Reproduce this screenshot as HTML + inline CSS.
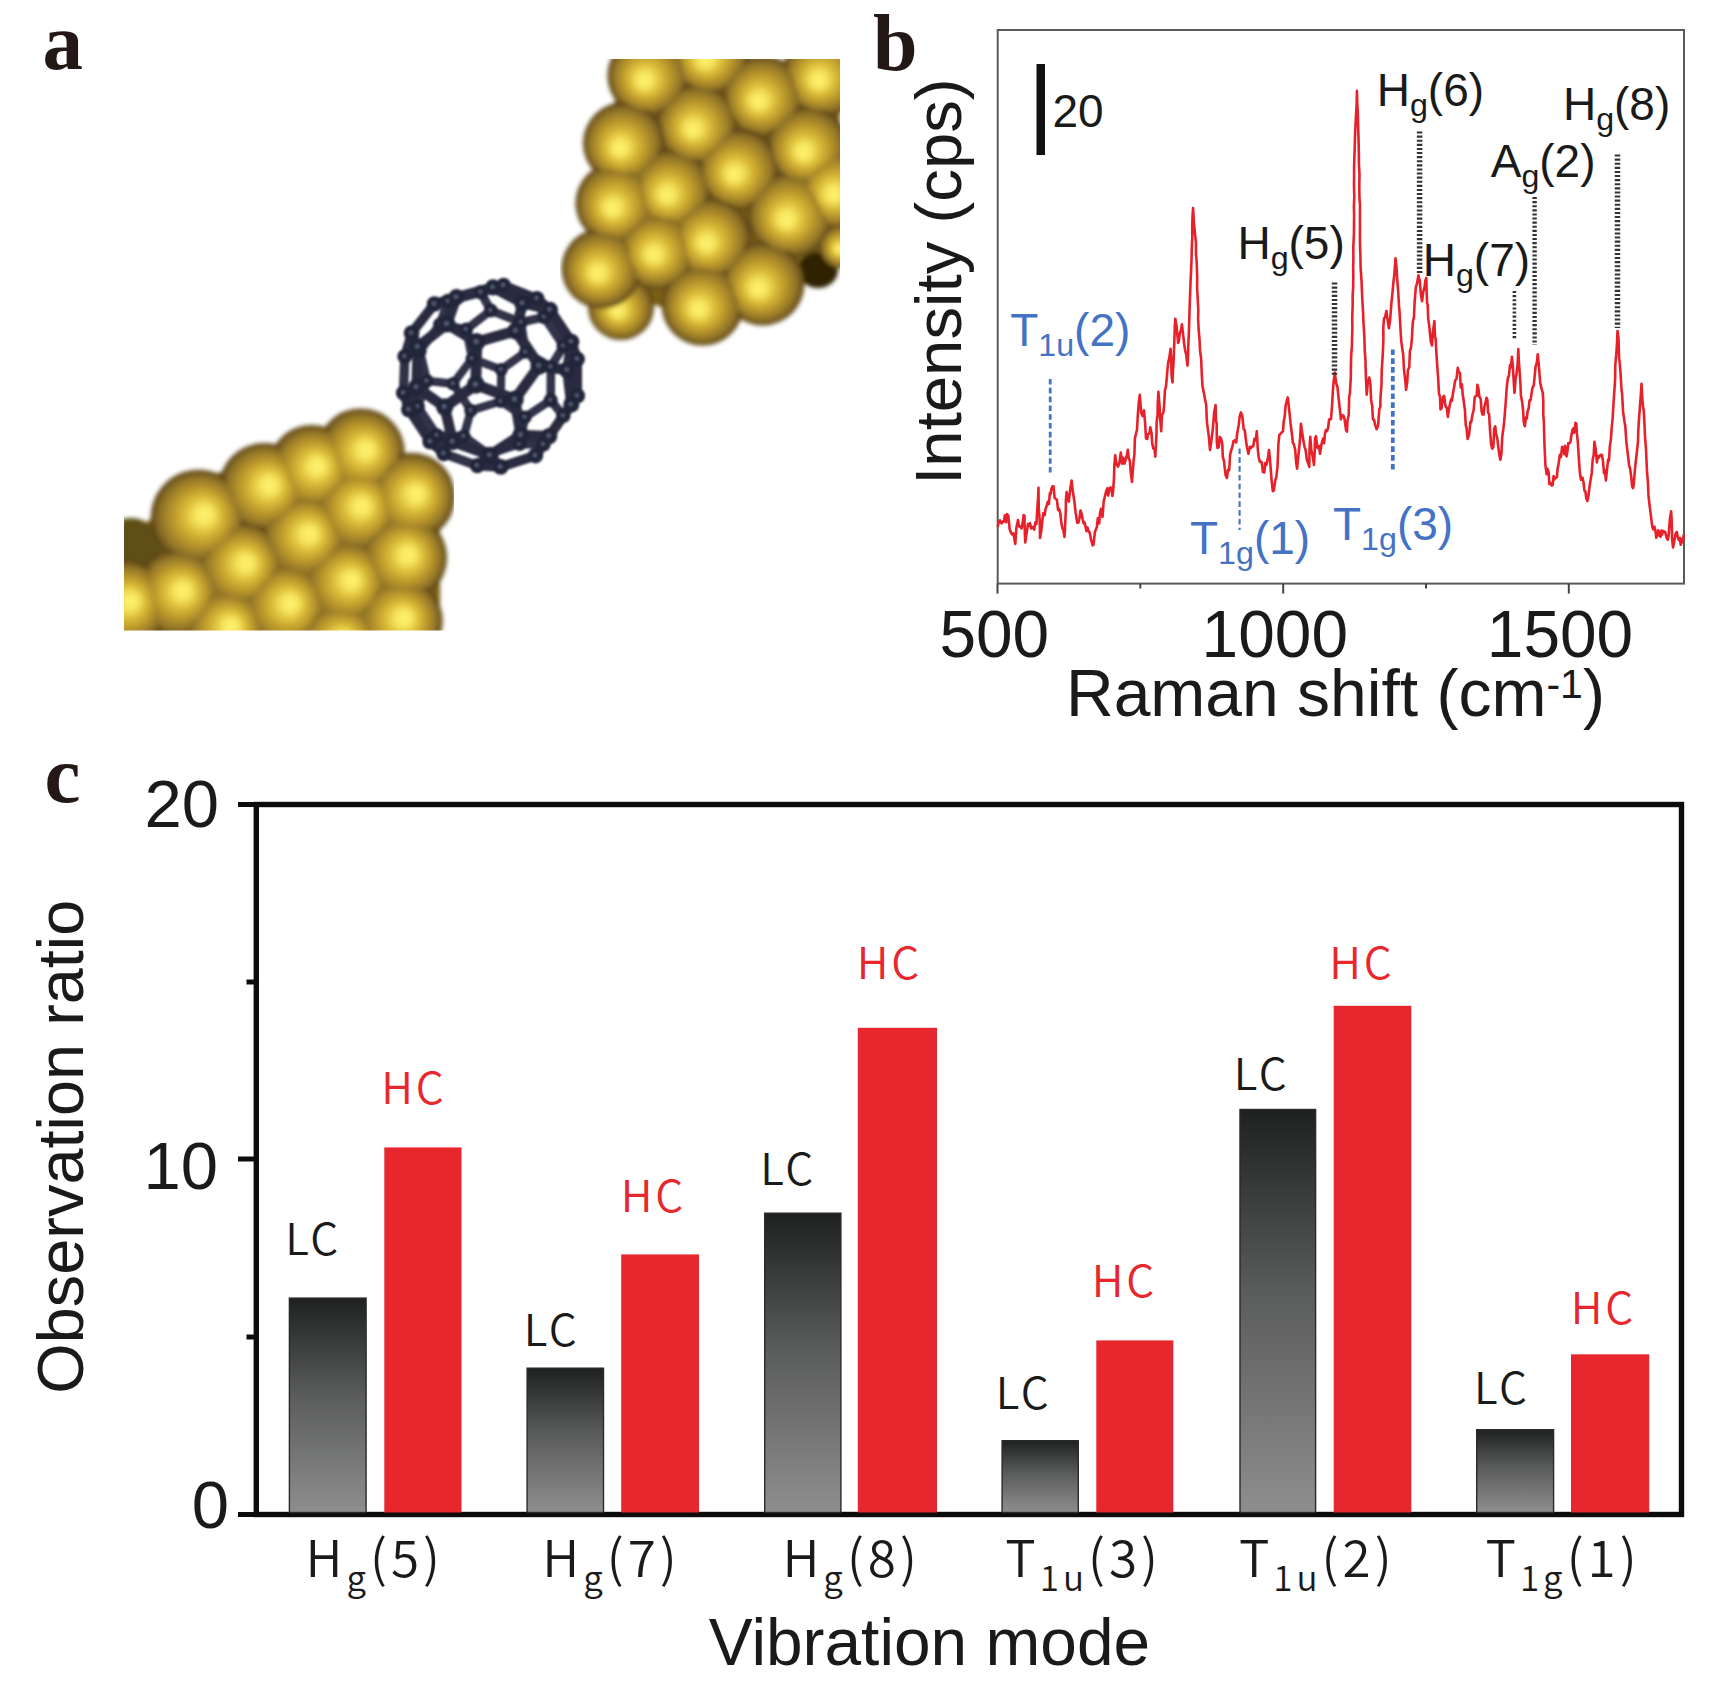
<!DOCTYPE html>
<html lang="en"><head><meta charset="utf-8"><title>Figure</title>
<style>html,body{margin:0;padding:0;background:#fff}svg{display:block}text{font-family:"Liberation Sans",Arial,sans-serif;fill:#1a1a1a}.ser{font-family:"Liberation Serif","Times New Roman",serif;font-weight:bold;fill:#231815}.hum{font-family:"Noto Sans CJK JP","Liberation Sans",sans-serif;font-weight:350}</style></head><body>
<svg width="1710" height="1707" viewBox="0 0 1710 1707">
<defs>
<radialGradient id="gold_100" cx="50%" cy="50%" r="50.00%" fx="44.00%" fy="57.00%"><stop offset="0" stop-color="#fdf273"/><stop offset="0.18" stop-color="#f8e65e"/><stop offset="0.4" stop-color="#d8b836"/><stop offset="0.62" stop-color="#b6932a"/><stop offset="0.82" stop-color="#917428"/><stop offset="0.94" stop-color="#70561e"/><stop offset="1" stop-color="#4e3612"/></radialGradient>
<radialGradient id="gold_86" cx="50%" cy="50%" r="58.14%" fx="43.02%" fy="58.14%"><stop offset="0" stop-color="#fdf273"/><stop offset="0.18" stop-color="#f8e65e"/><stop offset="0.4" stop-color="#d8b836"/><stop offset="0.62" stop-color="#b6932a"/><stop offset="0.82" stop-color="#917428"/><stop offset="0.94" stop-color="#70561e"/><stop offset="1" stop-color="#4e3612"/></radialGradient>
<radialGradient id="gold_72" cx="50%" cy="50%" r="69.44%" fx="41.67%" fy="59.72%"><stop offset="0" stop-color="#fdf273"/><stop offset="0.18" stop-color="#f8e65e"/><stop offset="0.4" stop-color="#d8b836"/><stop offset="0.62" stop-color="#b6932a"/><stop offset="0.82" stop-color="#917428"/><stop offset="0.94" stop-color="#70561e"/><stop offset="1" stop-color="#4e3612"/></radialGradient>
<radialGradient id="gold_57" cx="50%" cy="50%" r="86.21%" fx="39.66%" fy="62.07%"><stop offset="0" stop-color="#fdf273"/><stop offset="0.18" stop-color="#f8e65e"/><stop offset="0.4" stop-color="#d8b836"/><stop offset="0.62" stop-color="#b6932a"/><stop offset="0.82" stop-color="#917428"/><stop offset="0.94" stop-color="#70561e"/><stop offset="1" stop-color="#4e3612"/></radialGradient>
<radialGradient id="gold_44" cx="50%" cy="50%" r="113.64%" fx="36.36%" fy="65.91%"><stop offset="0" stop-color="#fdf273"/><stop offset="0.18" stop-color="#f8e65e"/><stop offset="0.4" stop-color="#d8b836"/><stop offset="0.62" stop-color="#b6932a"/><stop offset="0.82" stop-color="#917428"/><stop offset="0.94" stop-color="#70561e"/><stop offset="1" stop-color="#4e3612"/></radialGradient>
<radialGradient id="gold2_100" cx="50%" cy="50%" r="50.00%" fx="57.00%" fy="46.50%"><stop offset="0" stop-color="#fdf273"/><stop offset="0.18" stop-color="#f8e65e"/><stop offset="0.4" stop-color="#d8b836"/><stop offset="0.62" stop-color="#b6932a"/><stop offset="0.82" stop-color="#917428"/><stop offset="0.94" stop-color="#70561e"/><stop offset="1" stop-color="#4e3612"/></radialGradient>
<radialGradient id="gold2_86" cx="50%" cy="50%" r="58.14%" fx="58.14%" fy="45.93%"><stop offset="0" stop-color="#fdf273"/><stop offset="0.18" stop-color="#f8e65e"/><stop offset="0.4" stop-color="#d8b836"/><stop offset="0.62" stop-color="#b6932a"/><stop offset="0.82" stop-color="#917428"/><stop offset="0.94" stop-color="#70561e"/><stop offset="1" stop-color="#4e3612"/></radialGradient>
<radialGradient id="gold2_72" cx="50%" cy="50%" r="69.44%" fx="59.72%" fy="45.14%"><stop offset="0" stop-color="#fdf273"/><stop offset="0.18" stop-color="#f8e65e"/><stop offset="0.4" stop-color="#d8b836"/><stop offset="0.62" stop-color="#b6932a"/><stop offset="0.82" stop-color="#917428"/><stop offset="0.94" stop-color="#70561e"/><stop offset="1" stop-color="#4e3612"/></radialGradient>
<radialGradient id="gold2_57" cx="50%" cy="50%" r="86.21%" fx="62.07%" fy="43.97%"><stop offset="0" stop-color="#fdf273"/><stop offset="0.18" stop-color="#f8e65e"/><stop offset="0.4" stop-color="#d8b836"/><stop offset="0.62" stop-color="#b6932a"/><stop offset="0.82" stop-color="#917428"/><stop offset="0.94" stop-color="#70561e"/><stop offset="1" stop-color="#4e3612"/></radialGradient>
<radialGradient id="gold2_44" cx="50%" cy="50%" r="113.64%" fx="65.91%" fy="42.05%"><stop offset="0" stop-color="#fdf273"/><stop offset="0.18" stop-color="#f8e65e"/><stop offset="0.4" stop-color="#d8b836"/><stop offset="0.62" stop-color="#b6932a"/><stop offset="0.82" stop-color="#917428"/><stop offset="0.94" stop-color="#70561e"/><stop offset="1" stop-color="#4e3612"/></radialGradient>
<linearGradient id="lc" x1="0" y1="0" x2="0" y2="1"><stop offset="0" stop-color="#1f2121"/><stop offset="0.45" stop-color="#5a5b5b"/><stop offset="1" stop-color="#8e8e8e"/></linearGradient>
<filter id="blur1" x="-5%" y="-5%" width="110%" height="110%"><feGaussianBlur stdDeviation="2.2"/></filter>
<filter id="blur2" x="-5%" y="-5%" width="110%" height="110%"><feGaussianBlur stdDeviation="1.1"/></filter>
<clipPath id="clipTR"><rect x="560" y="59" width="280" height="300"/></clipPath>
<clipPath id="clipBL"><rect x="124" y="380" width="330" height="250.5"/></clipPath>
</defs>
<rect width="1710" height="1707" fill="#fff"/>
<g id="panel-a">
<g clip-path="url(#clipTR)"><g filter="url(#blur1)">
<path d="M640,70 L840,60 L840,262 L800,285 L700,320 L610,290 L590,200 L600,120 Z" fill="#7a6018"/>
<ellipse cx="818" cy="270" rx="20" ry="18" fill="#2e2206"/>
<circle cx="621" cy="307" r="33" fill="url(#gold_100)"/>
<circle cx="709.5" cy="54.5" r="41.0" fill="url(#gold_100)"/>
<circle cx="822.5" cy="75.5" r="41.0" fill="url(#gold_100)"/>
<circle cx="648.4" cy="75.7" r="41.0" fill="url(#gold_100)"/>
<circle cx="762.7" cy="96.4" r="41.0" fill="url(#gold_100)"/>
<circle cx="697.1" cy="124.5" r="41.0" fill="url(#gold_100)"/>
<circle cx="807.5" cy="147.0" r="41.0" fill="url(#gold_100)"/>
<circle cx="624.0" cy="143.2" r="41.0" fill="url(#gold_100)"/>
<circle cx="738.3" cy="169.5" r="41.0" fill="url(#gold_100)"/>
<circle cx="837.5" cy="189.5" r="41.0" fill="url(#gold_100)"/>
<circle cx="670.9" cy="190.1" r="41.0" fill="url(#gold_100)"/>
<circle cx="790.5" cy="214.5" r="43.0" fill="url(#gold_100)"/>
<circle cx="616.5" cy="203.2" r="41.0" fill="url(#gold_100)"/>
<circle cx="841.5" cy="246.5" r="22.0" fill="url(#gold_100)"/>
<circle cx="710.2" cy="238.5" r="41.0" fill="url(#gold_100)"/>
<circle cx="657.5" cy="250.1" r="40.0" fill="url(#gold_100)"/>
<circle cx="762.5" cy="283.5" r="42.0" fill="url(#gold_100)"/>
<circle cx="601.5" cy="268.5" r="40.0" fill="url(#gold_100)"/>
<circle cx="702.5" cy="304.5" r="41.0" fill="url(#gold_100)"/>
<circle cx="709.5" cy="54.5" r="35.3" fill="url(#gold_86)"/>
<circle cx="822.5" cy="75.5" r="35.3" fill="url(#gold_86)"/>
<circle cx="648.4" cy="75.7" r="35.3" fill="url(#gold_86)"/>
<circle cx="762.7" cy="96.4" r="35.3" fill="url(#gold_86)"/>
<circle cx="697.1" cy="124.5" r="35.3" fill="url(#gold_86)"/>
<circle cx="807.5" cy="147.0" r="35.3" fill="url(#gold_86)"/>
<circle cx="624.0" cy="143.2" r="35.3" fill="url(#gold_86)"/>
<circle cx="738.3" cy="169.5" r="35.3" fill="url(#gold_86)"/>
<circle cx="837.5" cy="189.5" r="35.3" fill="url(#gold_86)"/>
<circle cx="670.9" cy="190.1" r="35.3" fill="url(#gold_86)"/>
<circle cx="790.5" cy="214.5" r="37.0" fill="url(#gold_86)"/>
<circle cx="616.5" cy="203.2" r="35.3" fill="url(#gold_86)"/>
<circle cx="841.5" cy="246.5" r="18.9" fill="url(#gold_86)"/>
<circle cx="710.2" cy="238.5" r="35.3" fill="url(#gold_86)"/>
<circle cx="657.5" cy="250.1" r="34.4" fill="url(#gold_86)"/>
<circle cx="762.5" cy="283.5" r="36.1" fill="url(#gold_86)"/>
<circle cx="601.5" cy="268.5" r="34.4" fill="url(#gold_86)"/>
<circle cx="702.5" cy="304.5" r="35.3" fill="url(#gold_86)"/>
<circle cx="709.5" cy="54.5" r="29.5" fill="url(#gold_72)"/>
<circle cx="822.5" cy="75.5" r="29.5" fill="url(#gold_72)"/>
<circle cx="648.4" cy="75.7" r="29.5" fill="url(#gold_72)"/>
<circle cx="762.7" cy="96.4" r="29.5" fill="url(#gold_72)"/>
<circle cx="697.1" cy="124.5" r="29.5" fill="url(#gold_72)"/>
<circle cx="807.5" cy="147.0" r="29.5" fill="url(#gold_72)"/>
<circle cx="624.0" cy="143.2" r="29.5" fill="url(#gold_72)"/>
<circle cx="738.3" cy="169.5" r="29.5" fill="url(#gold_72)"/>
<circle cx="837.5" cy="189.5" r="29.5" fill="url(#gold_72)"/>
<circle cx="670.9" cy="190.1" r="29.5" fill="url(#gold_72)"/>
<circle cx="790.5" cy="214.5" r="31.0" fill="url(#gold_72)"/>
<circle cx="616.5" cy="203.2" r="29.5" fill="url(#gold_72)"/>
<circle cx="841.5" cy="246.5" r="15.8" fill="url(#gold_72)"/>
<circle cx="710.2" cy="238.5" r="29.5" fill="url(#gold_72)"/>
<circle cx="657.5" cy="250.1" r="28.8" fill="url(#gold_72)"/>
<circle cx="762.5" cy="283.5" r="30.2" fill="url(#gold_72)"/>
<circle cx="601.5" cy="268.5" r="28.8" fill="url(#gold_72)"/>
<circle cx="702.5" cy="304.5" r="29.5" fill="url(#gold_72)"/>
<circle cx="709.5" cy="54.5" r="23.8" fill="url(#gold_57)"/>
<circle cx="822.5" cy="75.5" r="23.8" fill="url(#gold_57)"/>
<circle cx="648.4" cy="75.7" r="23.8" fill="url(#gold_57)"/>
<circle cx="762.7" cy="96.4" r="23.8" fill="url(#gold_57)"/>
<circle cx="697.1" cy="124.5" r="23.8" fill="url(#gold_57)"/>
<circle cx="807.5" cy="147.0" r="23.8" fill="url(#gold_57)"/>
<circle cx="624.0" cy="143.2" r="23.8" fill="url(#gold_57)"/>
<circle cx="738.3" cy="169.5" r="23.8" fill="url(#gold_57)"/>
<circle cx="837.5" cy="189.5" r="23.8" fill="url(#gold_57)"/>
<circle cx="670.9" cy="190.1" r="23.8" fill="url(#gold_57)"/>
<circle cx="790.5" cy="214.5" r="24.9" fill="url(#gold_57)"/>
<circle cx="616.5" cy="203.2" r="23.8" fill="url(#gold_57)"/>
<circle cx="841.5" cy="246.5" r="12.8" fill="url(#gold_57)"/>
<circle cx="710.2" cy="238.5" r="23.8" fill="url(#gold_57)"/>
<circle cx="657.5" cy="250.1" r="23.2" fill="url(#gold_57)"/>
<circle cx="762.5" cy="283.5" r="24.4" fill="url(#gold_57)"/>
<circle cx="601.5" cy="268.5" r="23.2" fill="url(#gold_57)"/>
<circle cx="702.5" cy="304.5" r="23.8" fill="url(#gold_57)"/>
<circle cx="709.5" cy="54.5" r="18.0" fill="url(#gold_44)"/>
<circle cx="822.5" cy="75.5" r="18.0" fill="url(#gold_44)"/>
<circle cx="648.4" cy="75.7" r="18.0" fill="url(#gold_44)"/>
<circle cx="762.7" cy="96.4" r="18.0" fill="url(#gold_44)"/>
<circle cx="697.1" cy="124.5" r="18.0" fill="url(#gold_44)"/>
<circle cx="807.5" cy="147.0" r="18.0" fill="url(#gold_44)"/>
<circle cx="624.0" cy="143.2" r="18.0" fill="url(#gold_44)"/>
<circle cx="738.3" cy="169.5" r="18.0" fill="url(#gold_44)"/>
<circle cx="837.5" cy="189.5" r="18.0" fill="url(#gold_44)"/>
<circle cx="670.9" cy="190.1" r="18.0" fill="url(#gold_44)"/>
<circle cx="790.5" cy="214.5" r="18.9" fill="url(#gold_44)"/>
<circle cx="616.5" cy="203.2" r="18.0" fill="url(#gold_44)"/>
<circle cx="841.5" cy="246.5" r="9.7" fill="url(#gold_44)"/>
<circle cx="710.2" cy="238.5" r="18.0" fill="url(#gold_44)"/>
<circle cx="657.5" cy="250.1" r="17.6" fill="url(#gold_44)"/>
<circle cx="762.5" cy="283.5" r="18.5" fill="url(#gold_44)"/>
<circle cx="601.5" cy="268.5" r="17.6" fill="url(#gold_44)"/>
<circle cx="702.5" cy="304.5" r="18.0" fill="url(#gold_44)"/>
</g></g>
<g clip-path="url(#clipBL)"><g filter="url(#blur1)">
<path d="M124,540 L200,480 L330,430 L400,450 L440,520 L440,640 L124,640 Z" fill="#7a6018"/>
<circle cx="131" cy="548" r="30" fill="#5f5012"/>
<circle cx="360.8" cy="452.5" r="44.0" fill="url(#gold2_100)"/>
<circle cx="312.0" cy="469.0" r="44.0" fill="url(#gold2_100)"/>
<circle cx="264.0" cy="488.0" r="45.0" fill="url(#gold2_100)"/>
<circle cx="411.0" cy="496.7" r="44.0" fill="url(#gold2_100)"/>
<circle cx="356.6" cy="509.0" r="44.0" fill="url(#gold2_100)"/>
<circle cx="198.7" cy="517.7" r="48.0" fill="url(#gold2_100)"/>
<circle cx="304.0" cy="536.7" r="44.0" fill="url(#gold2_100)"/>
<circle cx="403.0" cy="557.7" r="44.0" fill="url(#gold2_100)"/>
<circle cx="240.8" cy="566.0" r="44.0" fill="url(#gold2_100)"/>
<circle cx="346.0" cy="583.0" r="44.0" fill="url(#gold2_100)"/>
<circle cx="177.7" cy="593.5" r="44.0" fill="url(#gold2_100)"/>
<circle cx="125.0" cy="604.0" r="44.0" fill="url(#gold2_100)"/>
<circle cx="285.0" cy="606.0" r="44.0" fill="url(#gold2_100)"/>
<circle cx="398.7" cy="621.0" r="44.0" fill="url(#gold2_100)"/>
<circle cx="226.0" cy="629.0" r="42.0" fill="url(#gold2_100)"/>
<circle cx="339.0" cy="643.0" r="42.0" fill="url(#gold2_100)"/>
<circle cx="360.8" cy="452.5" r="37.8" fill="url(#gold2_86)"/>
<circle cx="312.0" cy="469.0" r="37.8" fill="url(#gold2_86)"/>
<circle cx="264.0" cy="488.0" r="38.7" fill="url(#gold2_86)"/>
<circle cx="411.0" cy="496.7" r="37.8" fill="url(#gold2_86)"/>
<circle cx="356.6" cy="509.0" r="37.8" fill="url(#gold2_86)"/>
<circle cx="198.7" cy="517.7" r="41.3" fill="url(#gold2_86)"/>
<circle cx="304.0" cy="536.7" r="37.8" fill="url(#gold2_86)"/>
<circle cx="403.0" cy="557.7" r="37.8" fill="url(#gold2_86)"/>
<circle cx="240.8" cy="566.0" r="37.8" fill="url(#gold2_86)"/>
<circle cx="346.0" cy="583.0" r="37.8" fill="url(#gold2_86)"/>
<circle cx="177.7" cy="593.5" r="37.8" fill="url(#gold2_86)"/>
<circle cx="125.0" cy="604.0" r="37.8" fill="url(#gold2_86)"/>
<circle cx="285.0" cy="606.0" r="37.8" fill="url(#gold2_86)"/>
<circle cx="398.7" cy="621.0" r="37.8" fill="url(#gold2_86)"/>
<circle cx="226.0" cy="629.0" r="36.1" fill="url(#gold2_86)"/>
<circle cx="339.0" cy="643.0" r="36.1" fill="url(#gold2_86)"/>
<circle cx="360.8" cy="452.5" r="31.7" fill="url(#gold2_72)"/>
<circle cx="312.0" cy="469.0" r="31.7" fill="url(#gold2_72)"/>
<circle cx="264.0" cy="488.0" r="32.4" fill="url(#gold2_72)"/>
<circle cx="411.0" cy="496.7" r="31.7" fill="url(#gold2_72)"/>
<circle cx="356.6" cy="509.0" r="31.7" fill="url(#gold2_72)"/>
<circle cx="198.7" cy="517.7" r="34.6" fill="url(#gold2_72)"/>
<circle cx="304.0" cy="536.7" r="31.7" fill="url(#gold2_72)"/>
<circle cx="403.0" cy="557.7" r="31.7" fill="url(#gold2_72)"/>
<circle cx="240.8" cy="566.0" r="31.7" fill="url(#gold2_72)"/>
<circle cx="346.0" cy="583.0" r="31.7" fill="url(#gold2_72)"/>
<circle cx="177.7" cy="593.5" r="31.7" fill="url(#gold2_72)"/>
<circle cx="125.0" cy="604.0" r="31.7" fill="url(#gold2_72)"/>
<circle cx="285.0" cy="606.0" r="31.7" fill="url(#gold2_72)"/>
<circle cx="398.7" cy="621.0" r="31.7" fill="url(#gold2_72)"/>
<circle cx="226.0" cy="629.0" r="30.2" fill="url(#gold2_72)"/>
<circle cx="339.0" cy="643.0" r="30.2" fill="url(#gold2_72)"/>
<circle cx="360.8" cy="452.5" r="25.5" fill="url(#gold2_57)"/>
<circle cx="312.0" cy="469.0" r="25.5" fill="url(#gold2_57)"/>
<circle cx="264.0" cy="488.0" r="26.1" fill="url(#gold2_57)"/>
<circle cx="411.0" cy="496.7" r="25.5" fill="url(#gold2_57)"/>
<circle cx="356.6" cy="509.0" r="25.5" fill="url(#gold2_57)"/>
<circle cx="198.7" cy="517.7" r="27.8" fill="url(#gold2_57)"/>
<circle cx="304.0" cy="536.7" r="25.5" fill="url(#gold2_57)"/>
<circle cx="403.0" cy="557.7" r="25.5" fill="url(#gold2_57)"/>
<circle cx="240.8" cy="566.0" r="25.5" fill="url(#gold2_57)"/>
<circle cx="346.0" cy="583.0" r="25.5" fill="url(#gold2_57)"/>
<circle cx="177.7" cy="593.5" r="25.5" fill="url(#gold2_57)"/>
<circle cx="125.0" cy="604.0" r="25.5" fill="url(#gold2_57)"/>
<circle cx="285.0" cy="606.0" r="25.5" fill="url(#gold2_57)"/>
<circle cx="398.7" cy="621.0" r="25.5" fill="url(#gold2_57)"/>
<circle cx="226.0" cy="629.0" r="24.4" fill="url(#gold2_57)"/>
<circle cx="339.0" cy="643.0" r="24.4" fill="url(#gold2_57)"/>
<circle cx="360.8" cy="452.5" r="19.4" fill="url(#gold2_44)"/>
<circle cx="312.0" cy="469.0" r="19.4" fill="url(#gold2_44)"/>
<circle cx="264.0" cy="488.0" r="19.8" fill="url(#gold2_44)"/>
<circle cx="411.0" cy="496.7" r="19.4" fill="url(#gold2_44)"/>
<circle cx="356.6" cy="509.0" r="19.4" fill="url(#gold2_44)"/>
<circle cx="198.7" cy="517.7" r="21.1" fill="url(#gold2_44)"/>
<circle cx="304.0" cy="536.7" r="19.4" fill="url(#gold2_44)"/>
<circle cx="403.0" cy="557.7" r="19.4" fill="url(#gold2_44)"/>
<circle cx="240.8" cy="566.0" r="19.4" fill="url(#gold2_44)"/>
<circle cx="346.0" cy="583.0" r="19.4" fill="url(#gold2_44)"/>
<circle cx="177.7" cy="593.5" r="19.4" fill="url(#gold2_44)"/>
<circle cx="125.0" cy="604.0" r="19.4" fill="url(#gold2_44)"/>
<circle cx="285.0" cy="606.0" r="19.4" fill="url(#gold2_44)"/>
<circle cx="398.7" cy="621.0" r="19.4" fill="url(#gold2_44)"/>
<circle cx="226.0" cy="629.0" r="18.5" fill="url(#gold2_44)"/>
<circle cx="339.0" cy="643.0" r="18.5" fill="url(#gold2_44)"/>
</g></g>
<g filter="url(#blur2)" stroke-linecap="round">
<line x1="472.1" y1="358.6" x2="501.2" y2="369.6" stroke="#30334a" stroke-width="8.2"/>
<line x1="501.2" y1="369.6" x2="500.7" y2="401.4" stroke="#30334a" stroke-width="8.2"/>
<line x1="501.2" y1="369.6" x2="525.6" y2="352.1" stroke="#30334a" stroke-width="8.2"/>
<line x1="453.1" y1="383.7" x2="472.1" y2="358.6" stroke="#30334a" stroke-width="8.2"/>
<line x1="470.9" y1="410.5" x2="500.7" y2="401.4" stroke="#30334a" stroke-width="8.3"/>
<line x1="453.1" y1="383.7" x2="470.9" y2="410.5" stroke="#30334a" stroke-width="8.3"/>
<line x1="466.3" y1="329.4" x2="472.1" y2="358.6" stroke="#30334a" stroke-width="8.3"/>
<line x1="500.7" y1="401.4" x2="524.9" y2="417.3" stroke="#30334a" stroke-width="8.3"/>
<line x1="521.1" y1="322.3" x2="525.6" y2="352.1" stroke="#30334a" stroke-width="8.4"/>
<line x1="525.6" y1="352.1" x2="550.9" y2="366.8" stroke="#30334a" stroke-width="8.4"/>
<line x1="426.9" y1="380.9" x2="453.1" y2="383.7" stroke="#30334a" stroke-width="8.4"/>
<line x1="470.9" y1="410.5" x2="463.7" y2="436.4" stroke="#30334a" stroke-width="8.4"/>
<line x1="466.3" y1="329.4" x2="490.8" y2="310.5" stroke="#30334a" stroke-width="8.5"/>
<line x1="524.9" y1="417.3" x2="550.7" y2="400.2" stroke="#30334a" stroke-width="8.5"/>
<line x1="490.8" y1="310.5" x2="521.1" y2="322.3" stroke="#30334a" stroke-width="8.6"/>
<line x1="440.1" y1="324.5" x2="466.3" y2="329.4" stroke="#30334a" stroke-width="8.6"/>
<line x1="550.9" y1="366.8" x2="550.7" y2="400.2" stroke="#30334a" stroke-width="8.6"/>
<line x1="524.9" y1="417.3" x2="519.6" y2="443.9" stroke="#30334a" stroke-width="8.6"/>
<line x1="419.6" y1="350.9" x2="426.9" y2="380.9" stroke="#30334a" stroke-width="8.7"/>
<line x1="463.7" y1="436.4" x2="488.1" y2="454.0" stroke="#30334a" stroke-width="8.7"/>
<line x1="521.1" y1="322.3" x2="544.4" y2="317.1" stroke="#30334a" stroke-width="8.7"/>
<line x1="550.9" y1="366.8" x2="563.6" y2="345.9" stroke="#30334a" stroke-width="8.7"/>
<line x1="426.9" y1="380.9" x2="417.7" y2="406.7" stroke="#30334a" stroke-width="8.8"/>
<line x1="436.9" y1="435.5" x2="463.7" y2="436.4" stroke="#30334a" stroke-width="8.8"/>
<line x1="419.6" y1="350.9" x2="440.1" y2="324.5" stroke="#30334a" stroke-width="8.8"/>
<line x1="488.1" y1="454.0" x2="519.6" y2="443.9" stroke="#30334a" stroke-width="8.8"/>
<line x1="480.9" y1="292.3" x2="490.8" y2="310.5" stroke="#30334a" stroke-width="8.8"/>
<line x1="550.7" y1="400.2" x2="563.3" y2="415.8" stroke="#30334a" stroke-width="8.8"/>
<line x1="440.1" y1="324.5" x2="448.0" y2="301.2" stroke="#30334a" stroke-width="8.9"/>
<line x1="417.7" y1="406.7" x2="436.9" y2="435.5" stroke="#30334a" stroke-width="8.9"/>
<line x1="544.4" y1="317.1" x2="563.6" y2="345.9" stroke="#30334a" stroke-width="8.9"/>
<line x1="519.6" y1="443.9" x2="543.4" y2="444.2" stroke="#30334a" stroke-width="9.0"/>
<line x1="404.8" y1="356.5" x2="419.6" y2="350.9" stroke="#30334a" stroke-width="9.1"/>
<line x1="448.0" y1="301.2" x2="480.9" y2="292.3" stroke="#30334a" stroke-width="9.1"/>
<line x1="477.3" y1="465.6" x2="488.1" y2="454.0" stroke="#30334a" stroke-width="9.1"/>
<line x1="543.4" y1="444.2" x2="563.3" y2="415.8" stroke="#30334a" stroke-width="9.1"/>
<line x1="403.5" y1="392.9" x2="417.7" y2="406.7" stroke="#30334a" stroke-width="9.2"/>
<line x1="536.9" y1="298.5" x2="544.4" y2="317.1" stroke="#30334a" stroke-width="9.2"/>
<line x1="436.9" y1="435.5" x2="443.8" y2="453.6" stroke="#30334a" stroke-width="9.2"/>
<line x1="563.6" y1="345.9" x2="577.4" y2="359.1" stroke="#30334a" stroke-width="9.2"/>
<line x1="480.9" y1="292.3" x2="503.6" y2="285.4" stroke="#30334a" stroke-width="9.2"/>
<line x1="563.3" y1="415.8" x2="577.4" y2="395.8" stroke="#30334a" stroke-width="9.3"/>
<line x1="404.8" y1="356.5" x2="403.5" y2="392.9" stroke="#30334a" stroke-width="9.4"/>
<line x1="443.8" y1="453.6" x2="477.3" y2="465.6" stroke="#30334a" stroke-width="9.4"/>
<line x1="434.4" y1="304.0" x2="448.0" y2="301.2" stroke="#30334a" stroke-width="9.4"/>
<line x1="535.5" y1="455.6" x2="543.4" y2="444.2" stroke="#2a2c40" stroke-width="9.4"/>
<line x1="503.6" y1="285.4" x2="536.9" y2="298.5" stroke="#2a2c40" stroke-width="9.4"/>
<line x1="577.4" y1="359.1" x2="577.4" y2="395.8" stroke="#2a2c40" stroke-width="9.4"/>
<line x1="404.8" y1="356.5" x2="411.6" y2="333.1" stroke="#2a2c40" stroke-width="9.5"/>
<line x1="477.3" y1="465.6" x2="500.7" y2="466.9" stroke="#2a2c40" stroke-width="9.6"/>
<line x1="403.5" y1="392.9" x2="409.0" y2="409.5" stroke="#2a2c40" stroke-width="9.7"/>
<line x1="536.9" y1="298.5" x2="550.0" y2="309.8" stroke="#2a2c40" stroke-width="9.7"/>
<line x1="430.3" y1="441.6" x2="443.8" y2="453.6" stroke="#2a2c40" stroke-width="9.7"/>
<line x1="571.4" y1="341.8" x2="577.4" y2="359.1" stroke="#2a2c40" stroke-width="9.7"/>
<line x1="411.6" y1="333.1" x2="434.4" y2="304.0" stroke="#2a2c40" stroke-width="9.7"/>
<line x1="493.0" y1="287.4" x2="503.6" y2="285.4" stroke="#2a2c40" stroke-width="9.7"/>
<line x1="500.7" y1="466.9" x2="535.5" y2="455.6" stroke="#2a2c40" stroke-width="9.8"/>
<line x1="571.3" y1="404.6" x2="577.4" y2="395.8" stroke="#2a2c40" stroke-width="9.8"/>
<line x1="434.4" y1="304.0" x2="456.5" y2="297.2" stroke="#2a2c40" stroke-width="9.9"/>
<line x1="409.0" y1="409.5" x2="430.3" y2="441.6" stroke="#2a2c40" stroke-width="9.9"/>
<line x1="550.0" y1="309.8" x2="571.4" y2="341.8" stroke="#2a2c40" stroke-width="9.9"/>
<line x1="535.5" y1="455.6" x2="549.2" y2="436.1" stroke="#2a2c40" stroke-width="9.9"/>
<line x1="411.6" y1="333.1" x2="417.8" y2="346.9" stroke="#2a2c40" stroke-width="10.1"/>
<line x1="489.9" y1="455.2" x2="500.7" y2="466.9" stroke="#2a2c40" stroke-width="10.1"/>
<line x1="456.5" y1="297.2" x2="493.0" y2="287.4" stroke="#2a2c40" stroke-width="10.1"/>
<line x1="549.2" y1="436.1" x2="571.3" y2="404.6" stroke="#2a2c40" stroke-width="10.1"/>
<line x1="522.5" y1="303.2" x2="550.0" y2="309.8" stroke="#2a2c40" stroke-width="10.1"/>
<line x1="571.4" y1="341.8" x2="567.2" y2="370.0" stroke="#2a2c40" stroke-width="10.2"/>
<line x1="409.0" y1="409.5" x2="416.5" y2="387.2" stroke="#2a2c40" stroke-width="10.2"/>
<line x1="430.3" y1="441.6" x2="452.7" y2="441.8" stroke="#2a2c40" stroke-width="10.2"/>
<line x1="493.0" y1="287.4" x2="522.5" y2="303.2" stroke="#2a2c40" stroke-width="10.2"/>
<line x1="567.2" y1="370.0" x2="571.3" y2="404.6" stroke="#2a2c40" stroke-width="10.2"/>
<line x1="456.5" y1="297.2" x2="447.0" y2="324.0" stroke="#2a2c40" stroke-width="10.4"/>
<line x1="417.8" y1="346.9" x2="416.5" y2="387.2" stroke="#2a2c40" stroke-width="10.4"/>
<line x1="520.9" y1="435.0" x2="549.2" y2="436.1" stroke="#2a2c40" stroke-width="10.4"/>
<line x1="452.7" y1="441.8" x2="489.9" y2="455.2" stroke="#2a2c40" stroke-width="10.4"/>
<line x1="417.8" y1="346.9" x2="447.0" y2="324.0" stroke="#2a2c40" stroke-width="10.5"/>
<line x1="489.9" y1="455.2" x2="520.9" y2="435.0" stroke="#2a2c40" stroke-width="10.5"/>
<line x1="522.5" y1="303.2" x2="515.9" y2="330.9" stroke="#2a2c40" stroke-width="10.6"/>
<line x1="539.2" y1="365.9" x2="567.2" y2="370.0" stroke="#2a2c40" stroke-width="10.6"/>
<line x1="416.5" y1="387.2" x2="444.7" y2="407.0" stroke="#2a2c40" stroke-width="10.6"/>
<line x1="444.7" y1="407.0" x2="452.7" y2="441.8" stroke="#2a2c40" stroke-width="10.6"/>
<line x1="447.0" y1="324.0" x2="476.7" y2="342.0" stroke="#2a2c40" stroke-width="10.8"/>
<line x1="514.9" y1="399.4" x2="520.9" y2="435.0" stroke="#2a2c40" stroke-width="10.8"/>
<line x1="515.9" y1="330.9" x2="539.2" y2="365.9" stroke="#2a2c40" stroke-width="10.9"/>
<line x1="476.7" y1="342.0" x2="515.9" y2="330.9" stroke="#2a2c40" stroke-width="10.9"/>
<line x1="514.9" y1="399.4" x2="539.2" y2="365.9" stroke="#2a2c40" stroke-width="10.9"/>
<line x1="444.7" y1="407.0" x2="475.8" y2="384.7" stroke="#2a2c40" stroke-width="10.9"/>
<line x1="476.7" y1="342.0" x2="475.8" y2="384.7" stroke="#2a2c40" stroke-width="11.0"/>
<line x1="475.8" y1="384.7" x2="514.9" y2="399.4" stroke="#2a2c40" stroke-width="11.0"/>
<circle cx="501.2" cy="369.6" r="6.6" fill="#24263a"/>
<circle cx="500.7" cy="369.1" r="1.8" fill="#555a72"/>
<circle cx="472.1" cy="358.6" r="6.6" fill="#24263a"/>
<circle cx="471.6" cy="358.1" r="1.8" fill="#555a72"/>
<circle cx="500.7" cy="401.4" r="6.6" fill="#24263a"/>
<circle cx="500.2" cy="400.9" r="1.8" fill="#555a72"/>
<circle cx="453.1" cy="383.7" r="6.7" fill="#24263a"/>
<circle cx="452.6" cy="383.2" r="1.9" fill="#555a72"/>
<circle cx="470.9" cy="410.5" r="6.7" fill="#24263a"/>
<circle cx="470.4" cy="410.0" r="1.9" fill="#555a72"/>
<circle cx="525.6" cy="352.1" r="6.7" fill="#24263a"/>
<circle cx="525.1" cy="351.6" r="1.9" fill="#555a72"/>
<circle cx="466.3" cy="329.4" r="6.8" fill="#24263a"/>
<circle cx="465.8" cy="328.9" r="1.9" fill="#555a72"/>
<circle cx="524.9" cy="417.3" r="6.8" fill="#24263a"/>
<circle cx="524.4" cy="416.8" r="1.9" fill="#555a72"/>
<circle cx="521.1" cy="322.3" r="6.9" fill="#24263a"/>
<circle cx="520.6" cy="321.8" r="1.9" fill="#555a72"/>
<circle cx="550.9" cy="366.8" r="6.9" fill="#24263a"/>
<circle cx="550.4" cy="366.3" r="1.9" fill="#555a72"/>
<circle cx="490.8" cy="310.5" r="6.9" fill="#24263a"/>
<circle cx="490.3" cy="310.0" r="1.9" fill="#555a72"/>
<circle cx="426.9" cy="380.9" r="6.9" fill="#24263a"/>
<circle cx="426.4" cy="380.4" r="1.9" fill="#555a72"/>
<circle cx="463.7" cy="436.4" r="7.0" fill="#24263a"/>
<circle cx="463.2" cy="435.9" r="1.9" fill="#555a72"/>
<circle cx="550.7" cy="400.2" r="7.0" fill="#24263a"/>
<circle cx="550.2" cy="399.7" r="1.9" fill="#555a72"/>
<circle cx="440.1" cy="324.5" r="7.1" fill="#24263a"/>
<circle cx="439.6" cy="324.0" r="1.9" fill="#555a72"/>
<circle cx="519.6" cy="443.9" r="7.1" fill="#24263a"/>
<circle cx="519.1" cy="443.4" r="2.0" fill="#555a72"/>
<circle cx="419.6" cy="350.9" r="7.1" fill="#24263a"/>
<circle cx="419.1" cy="350.4" r="2.0" fill="#555a72"/>
<circle cx="488.1" cy="454.0" r="7.1" fill="#24263a"/>
<circle cx="487.6" cy="453.5" r="2.0" fill="#555a72"/>
<circle cx="417.7" cy="406.7" r="7.2" fill="#24263a"/>
<circle cx="417.2" cy="406.2" r="2.0" fill="#555a72"/>
<circle cx="544.4" cy="317.1" r="7.2" fill="#24263a"/>
<circle cx="543.9" cy="316.6" r="2.0" fill="#555a72"/>
<circle cx="436.9" cy="435.5" r="7.2" fill="#24263a"/>
<circle cx="436.4" cy="435.0" r="2.0" fill="#555a72"/>
<circle cx="563.6" cy="345.9" r="7.2" fill="#24263a"/>
<circle cx="563.1" cy="345.4" r="2.0" fill="#555a72"/>
<circle cx="480.9" cy="292.3" r="7.3" fill="#24263a"/>
<circle cx="480.4" cy="291.8" r="2.0" fill="#555a72"/>
<circle cx="563.3" cy="415.8" r="7.3" fill="#24263a"/>
<circle cx="562.8" cy="415.3" r="2.0" fill="#555a72"/>
<circle cx="448.0" cy="301.2" r="7.4" fill="#24263a"/>
<circle cx="447.5" cy="300.7" r="2.0" fill="#555a72"/>
<circle cx="543.4" cy="444.2" r="7.4" fill="#24263a"/>
<circle cx="542.9" cy="443.7" r="2.0" fill="#555a72"/>
<circle cx="404.8" cy="356.5" r="7.5" fill="#24263a"/>
<circle cx="404.3" cy="356.0" r="2.1" fill="#555a72"/>
<circle cx="477.3" cy="465.6" r="7.6" fill="#24263a"/>
<circle cx="476.8" cy="465.1" r="2.1" fill="#555a72"/>
<circle cx="403.5" cy="392.9" r="7.6" fill="#24263a"/>
<circle cx="403.0" cy="392.4" r="2.1" fill="#555a72"/>
<circle cx="536.9" cy="298.5" r="7.6" fill="#24263a"/>
<circle cx="536.4" cy="298.0" r="2.1" fill="#555a72"/>
<circle cx="443.8" cy="453.6" r="7.6" fill="#24263a"/>
<circle cx="443.3" cy="453.1" r="2.1" fill="#555a72"/>
<circle cx="577.4" cy="359.1" r="7.6" fill="#24263a"/>
<circle cx="576.9" cy="358.6" r="2.1" fill="#555a72"/>
<circle cx="503.6" cy="285.4" r="7.6" fill="#24263a"/>
<circle cx="503.1" cy="284.9" r="2.1" fill="#555a72"/>
<circle cx="577.4" cy="395.8" r="7.7" fill="#24263a"/>
<circle cx="576.9" cy="395.3" r="2.1" fill="#555a72"/>
<circle cx="434.4" cy="304.0" r="7.8" fill="#24263a"/>
<circle cx="433.9" cy="303.5" r="2.2" fill="#555a72"/>
<circle cx="535.5" cy="455.6" r="7.8" fill="#24263a"/>
<circle cx="535.0" cy="455.1" r="2.2" fill="#555a72"/>
<circle cx="411.6" cy="333.1" r="7.9" fill="#24263a"/>
<circle cx="411.1" cy="332.6" r="2.2" fill="#555a72"/>
<circle cx="500.7" cy="466.9" r="7.9" fill="#24263a"/>
<circle cx="500.2" cy="466.4" r="2.2" fill="#555a72"/>
<circle cx="409.0" cy="409.5" r="8.0" fill="#24263a"/>
<circle cx="408.5" cy="409.0" r="2.2" fill="#555a72"/>
<circle cx="550.0" cy="309.8" r="8.0" fill="#24263a"/>
<circle cx="549.5" cy="309.3" r="2.2" fill="#555a72"/>
<circle cx="430.3" cy="441.6" r="8.0" fill="#24263a"/>
<circle cx="429.8" cy="441.1" r="2.2" fill="#555a72"/>
<circle cx="571.4" cy="341.8" r="8.0" fill="#24263a"/>
<circle cx="570.9" cy="341.3" r="2.2" fill="#555a72"/>
<circle cx="493.0" cy="287.4" r="8.1" fill="#24263a"/>
<circle cx="492.5" cy="286.9" r="2.2" fill="#555a72"/>
<circle cx="571.3" cy="404.6" r="8.1" fill="#24263a"/>
<circle cx="570.8" cy="404.1" r="2.2" fill="#555a72"/>
<circle cx="456.5" cy="297.2" r="8.2" fill="#24263a"/>
<circle cx="456.0" cy="296.7" r="2.3" fill="#555a72"/>
<circle cx="549.2" cy="436.1" r="8.2" fill="#24263a"/>
<circle cx="548.7" cy="435.6" r="2.3" fill="#555a72"/>
<circle cx="417.8" cy="346.9" r="8.4" fill="#24263a"/>
<circle cx="417.3" cy="346.4" r="2.3" fill="#555a72"/>
<circle cx="522.5" cy="303.2" r="8.4" fill="#24263a"/>
<circle cx="522.0" cy="302.7" r="2.3" fill="#555a72"/>
<circle cx="567.2" cy="370.0" r="8.4" fill="#24263a"/>
<circle cx="566.7" cy="369.5" r="2.3" fill="#555a72"/>
<circle cx="489.9" cy="455.2" r="8.4" fill="#24263a"/>
<circle cx="489.4" cy="454.7" r="2.3" fill="#555a72"/>
<circle cx="416.5" cy="387.2" r="8.4" fill="#24263a"/>
<circle cx="416.0" cy="386.7" r="2.3" fill="#555a72"/>
<circle cx="452.7" cy="441.8" r="8.5" fill="#24263a"/>
<circle cx="452.2" cy="441.3" r="2.3" fill="#555a72"/>
<circle cx="447.0" cy="324.0" r="8.6" fill="#24263a"/>
<circle cx="446.5" cy="323.5" r="2.4" fill="#555a72"/>
<circle cx="520.9" cy="435.0" r="8.6" fill="#24263a"/>
<circle cx="520.4" cy="434.5" r="2.4" fill="#555a72"/>
<circle cx="444.7" cy="407.0" r="8.7" fill="#24263a"/>
<circle cx="444.2" cy="406.5" r="2.4" fill="#555a72"/>
<circle cx="515.9" cy="330.9" r="8.8" fill="#24263a"/>
<circle cx="515.4" cy="330.4" r="2.4" fill="#555a72"/>
<circle cx="539.2" cy="365.9" r="8.8" fill="#24263a"/>
<circle cx="538.7" cy="365.4" r="2.4" fill="#555a72"/>
<circle cx="476.7" cy="342.0" r="8.9" fill="#24263a"/>
<circle cx="476.2" cy="341.5" r="2.5" fill="#555a72"/>
<circle cx="514.9" cy="399.4" r="8.9" fill="#24263a"/>
<circle cx="514.4" cy="398.9" r="2.5" fill="#555a72"/>
<circle cx="475.8" cy="384.7" r="9.0" fill="#24263a"/>
<circle cx="475.3" cy="384.2" r="2.5" fill="#555a72"/>
</g>
<text class="ser" x="42.5" y="69.2" font-size="81">a</text>
</g>
<g id="panel-b">
<text class="ser" x="873" y="69.5" font-size="80">b</text>
<rect x="997.7" y="30" width="686.3" height="553.6" fill="none" stroke="#5a5a5a" stroke-width="2"/>
<line x1="997.5" y1="583.6" x2="997.5" y2="593.6" stroke="#444" stroke-width="2"/>
<line x1="1140.3" y1="583.6" x2="1140.3" y2="588.6" stroke="#444" stroke-width="2"/>
<line x1="1283.2" y1="583.6" x2="1283.2" y2="593.6" stroke="#444" stroke-width="2"/>
<line x1="1426.0" y1="583.6" x2="1426.0" y2="588.6" stroke="#444" stroke-width="2"/>
<line x1="1568.8" y1="583.6" x2="1568.8" y2="593.6" stroke="#444" stroke-width="2"/>
<text x="994.3" y="656.8" font-size="65.8" text-anchor="middle">500</text>
<text x="1274.8" y="656.8" font-size="65.8" text-anchor="middle">1000</text>
<text x="1560.0" y="656.8" font-size="65.8" text-anchor="middle">1500</text>
<text x="1066" y="716" font-size="66">Raman shift (cm<tspan font-size="41" dy="-18.5">-1</tspan><tspan dy="18.5">)</tspan></text>
<text transform="translate(960.5,281.6) rotate(-90)" font-size="65.3" text-anchor="middle">Intensity (cps)</text>
<rect x="1036.5" y="64" width="8.5" height="91" fill="#111"/>
<text x="1052.5" y="126.6" font-size="46">20</text>
<polyline fill="none" stroke="#e6212a" stroke-width="2.6" stroke-linejoin="round" points="997.7,527.0 998.6,522.2 999.9,520.3 1000.9,522.7 1001.6,523.3 1002.7,521.6 1004.0,521.4 1004.8,515.4 1006.1,522.3 1007.0,514.1 1008.3,515.8 1009.7,529.3 1011.0,532.7 1012.1,534.4 1013.4,533.3 1014.4,538.8 1015.3,544.0 1016.4,527.7 1018.0,520.0 1019.1,526.4 1020.2,526.6 1021.6,528.5 1022.7,522.8 1023.6,515.1 1024.5,515.8 1024.6,525.9 1025.2,542.5 1026.7,532.4 1028.0,524.0 1028.9,525.7 1030.0,523.3 1031.2,528.5 1032.0,527.0 1032.9,527.1 1034.2,529.7 1035.4,522.4 1036.4,524.0 1037.4,507.6 1037.8,502.7 1038.5,487.7 1038.6,497.6 1038.8,509.7 1039.6,518.7 1039.9,525.9 1040.0,538.0 1041.3,530.7 1042.3,520.8 1043.4,513.0 1044.7,515.2 1045.5,509.2 1046.4,506.8 1047.7,501.7 1048.8,504.1 1049.9,493.1 1050.6,494.3 1051.3,489.0 1052.6,486.3 1053.5,486.2 1054.6,497.8 1056.0,499.0 1056.9,499.7 1058.1,510.2 1059.0,508.9 1060.3,513.0 1061.4,523.3 1062.6,529.1 1063.3,530.1 1064.5,537.0 1064.9,530.1 1065.8,510.6 1065.9,500.2 1066.6,492.0 1067.5,496.7 1068.8,501.7 1070.3,488.5 1071.6,480.6 1072.7,490.2 1074.4,501.7 1075.7,513.0 1077.2,522.8 1078.5,522.5 1079.3,519.2 1080.5,510.5 1081.4,513.0 1082.7,519.6 1083.7,523.3 1084.5,522.4 1085.6,527.0 1086.4,531.1 1087.4,527.4 1088.5,531.1 1089.6,532.4 1090.4,536.2 1091.4,541.2 1092.7,545.3 1093.5,544.9 1094.9,532.2 1095.7,529.9 1096.9,527.0 1097.8,518.2 1099.2,523.4 1100.0,513.2 1101.0,508.8 1102.5,517.0 1103.7,501.4 1105.3,494.7 1106.3,490.6 1107.6,488.1 1108.2,495.5 1109.5,489.0 1110.5,487.4 1111.5,488.4 1112.4,496.0 1113.1,491.2 1114.0,477.8 1114.4,464.0 1115.2,455.3 1116.4,464.0 1118.0,466.6 1119.4,462.7 1120.8,452.5 1122.2,463.8 1123.2,457.9 1124.6,463.6 1125.8,458.8 1126.9,455.2 1127.8,449.7 1128.7,458.0 1129.8,460.6 1130.7,471.5 1132.0,482.0 1132.6,473.3 1133.7,459.7 1134.4,454.8 1134.9,438.5 1136.2,432.7 1137.0,430.0 1137.8,415.2 1138.7,403.3 1139.8,394.9 1141.2,413.0 1142.7,416.1 1144.0,410.3 1145.2,424.2 1146.0,438.5 1147.2,439.0 1147.9,434.6 1149.5,433.2 1150.3,427.2 1151.5,432.9 1152.1,442.2 1153.2,448.3 1154.6,449.6 1155.3,456.7 1155.8,448.0 1156.5,433.5 1156.6,422.6 1157.6,414.9 1157.7,404.2 1158.4,391.8 1159.6,406.7 1160.2,418.6 1161.2,431.2 1161.9,415.5 1163.4,412.3 1164.1,405.2 1165.0,390.0 1166.1,385.9 1167.4,370.2 1168.2,362.9 1169.3,357.9 1170.6,348.7 1171.1,359.0 1171.6,375.8 1172.5,382.4 1172.9,371.6 1173.5,363.1 1173.9,352.6 1174.4,340.1 1174.8,327.0 1175.3,318.7 1176.7,327.3 1178.1,343.0 1178.8,341.7 1179.8,333.4 1181.1,329.6 1181.9,324.3 1182.9,332.8 1184.2,344.0 1185.0,349.8 1186.2,354.8 1187.5,365.6 1188.1,354.7 1188.3,344.9 1188.9,332.4 1189.2,321.7 1189.5,311.6 1189.9,299.8 1190.3,288.7 1190.6,280.7 1191.1,270.4 1191.6,257.3 1191.7,250.5 1192.3,236.6 1192.2,228.0 1192.5,216.9 1193.1,208.1 1193.8,221.3 1195.1,235.1 1195.9,241.9 1196.0,253.9 1196.7,262.2 1197.2,277.2 1197.1,288.1 1197.6,296.9 1198.3,309.6 1198.1,318.7 1198.7,330.0 1199.5,339.4 1200.0,350.4 1201.1,358.3 1201.8,374.3 1202.5,386.2 1203.4,390.6 1205.0,398.9 1206.2,405.0 1206.9,421.7 1208.3,432.8 1208.8,436.1 1210.0,450.0 1211.1,442.8 1212.8,429.3 1214.1,413.0 1215.6,405.0 1216.0,420.4 1216.7,423.8 1216.8,441.9 1217.5,448.0 1218.8,447.1 1219.7,436.8 1221.2,438.7 1222.3,444.4 1222.8,456.7 1224.1,461.7 1224.8,468.9 1225.7,475.5 1226.9,478.0 1228.0,469.8 1229.2,470.1 1230.1,454.8 1231.4,449.6 1232.5,446.2 1233.5,441.1 1234.7,440.3 1236.2,442.4 1237.3,432.7 1238.7,425.0 1239.7,416.3 1240.9,412.4 1242.2,415.5 1243.7,429.3 1244.7,430.0 1246.2,442.1 1247.0,447.3 1248.4,453.7 1249.9,446.8 1251.1,447.9 1252.2,446.2 1253.3,446.2 1254.4,438.8 1255.8,440.4 1256.8,431.2 1257.7,448.0 1258.7,457.4 1259.9,461.9 1260.9,461.7 1261.8,462.3 1262.9,472.1 1264.3,472.4 1265.3,463.0 1266.4,465.0 1268.0,457.5 1269.0,450.0 1269.8,457.4 1270.8,470.1 1271.6,480.3 1272.8,491.2 1273.8,490.3 1275.4,479.5 1276.2,478.1 1277.5,466.8 1278.0,454.6 1278.4,444.3 1279.3,435.0 1280.5,433.8 1281.6,432.5 1283.0,431.2 1283.7,421.8 1284.7,416.6 1285.6,405.6 1286.7,401.2 1287.8,397.4 1289.3,410.9 1290.6,423.7 1291.8,433.0 1292.9,442.9 1293.8,444.3 1295.2,449.8 1296.2,462.8 1297.1,468.7 1297.8,461.2 1299.2,447.6 1300.1,438.4 1300.9,423.7 1301.9,430.5 1303.3,440.6 1304.6,447.1 1305.6,450.0 1306.9,460.0 1308.2,463.4 1309.3,466.8 1309.5,451.5 1309.7,445.2 1310.3,436.8 1311.3,450.0 1312.8,457.0 1314.0,465.0 1314.6,453.9 1315.0,438.7 1316.0,436.2 1317.2,447.5 1318.0,448.2 1319.1,445.9 1320.0,453.8 1321.1,447.1 1321.7,443.3 1323.1,438.6 1324.1,443.3 1324.9,434.0 1325.9,430.2 1326.9,431.2 1328.1,428.0 1329.1,419.5 1329.8,419.0 1331.0,419.3 1332.1,405.4 1332.9,390.5 1333.6,381.7 1334.8,372.6 1336.1,383.0 1337.4,386.7 1338.5,397.2 1339.7,407.9 1340.9,419.3 1342.1,415.0 1343.6,415.9 1344.6,419.3 1346.1,430.3 1347.0,431.6 1347.5,420.3 1348.7,415.2 1349.2,396.5 1349.9,393.3 1350.8,377.5 1350.9,367.8 1351.1,357.4 1351.9,345.4 1352.1,337.1 1352.4,327.9 1352.2,318.7 1352.7,304.4 1352.6,296.6 1353.2,286.5 1353.3,275.5 1353.2,265.7 1353.4,258.0 1353.3,247.5 1353.9,234.5 1354.0,227.3 1354.1,215.2 1353.9,205.7 1354.3,196.6 1354.0,185.8 1354.1,173.9 1354.1,167.6 1354.4,156.0 1354.7,147.2 1355.1,133.2 1355.7,122.0 1356.0,114.8 1356.7,103.2 1356.9,90.9 1357.3,103.7 1357.8,112.8 1358.0,121.3 1358.4,134.1 1358.7,145.8 1358.9,156.0 1358.9,163.9 1359.5,174.4 1359.3,185.5 1359.4,197.4 1360.0,205.2 1359.9,215.5 1360.0,226.0 1359.9,235.0 1360.1,248.6 1360.4,255.4 1360.6,266.8 1361.5,280.7 1361.8,288.0 1362.3,299.3 1363.0,310.8 1363.5,323.1 1364.3,335.7 1364.8,351.8 1365.4,358.3 1365.7,371.4 1366.1,381.1 1366.7,394.7 1367.7,383.6 1369.2,377.5 1370.4,383.8 1371.1,399.9 1372.2,405.7 1372.9,419.3 1374.0,419.8 1375.3,425.3 1376.6,429.2 1378.1,425.7 1379.3,409.0 1380.3,407.0 1380.5,396.9 1381.5,384.7 1381.7,371.4 1382.1,364.8 1382.8,353.4 1383.4,339.4 1383.3,327.9 1384.0,318.5 1385.2,316.8 1386.4,311.0 1387.9,322.1 1388.9,328.3 1390.2,319.0 1391.3,304.3 1392.6,291.4 1393.3,283.5 1394.4,274.0 1395.5,258.2 1396.5,267.1 1397.1,277.6 1398.2,291.4 1399.0,305.9 1399.5,311.2 1400.5,329.2 1401.2,340.6 1402.1,347.3 1403.2,354.8 1404.0,369.7 1405.4,381.6 1406.1,389.8 1407.3,381.2 1407.9,370.2 1409.3,367.0 1409.9,351.0 1411.0,348.0 1411.9,338.3 1412.8,321.9 1413.9,317.7 1414.7,301.2 1415.8,287.4 1417.1,283.1 1418.4,275.4 1419.7,280.6 1421.0,295.3 1422.1,301.2 1423.2,292.1 1424.5,287.4 1425.4,280.7 1426.3,277.9 1426.6,291.0 1427.1,303.3 1427.7,304.8 1428.2,318.5 1429.3,326.6 1430.8,341.5 1431.9,345.5 1432.9,332.1 1434.4,321.0 1435.0,337.6 1435.7,338.6 1436.4,353.7 1437.6,370.5 1438.1,377.5 1439.0,393.7 1440.0,396.9 1440.5,409.5 1441.6,408.2 1443.0,397.2 1444.1,395.9 1445.1,403.7 1445.9,407.1 1446.7,407.4 1447.9,416.9 1448.8,410.3 1450.2,402.8 1451.3,398.8 1451.9,400.8 1453.3,391.5 1454.1,387.3 1455.1,380.5 1456.5,378.9 1457.8,367.7 1458.6,371.6 1460.0,373.2 1460.7,387.4 1461.9,384.2 1462.7,394.7 1463.4,398.7 1464.9,409.7 1465.8,425.7 1466.5,427.6 1467.6,439.0 1468.9,435.4 1469.4,431.6 1470.4,421.7 1471.2,422.2 1472.5,414.4 1473.7,410.0 1474.7,397.3 1475.3,396.4 1476.7,395.9 1477.4,384.9 1478.3,388.0 1479.4,396.6 1480.7,399.0 1481.6,411.2 1482.4,414.4 1483.6,414.5 1484.4,406.6 1485.2,404.0 1486.5,397.8 1487.3,399.6 1488.1,412.3 1489.1,414.4 1490.0,429.7 1491.1,444.3 1492.2,448.8 1493.4,446.8 1494.1,429.1 1495.2,426.3 1496.0,433.0 1497.4,439.1 1498.1,445.5 1499.4,455.1 1500.3,459.8 1501.4,454.0 1502.3,436.3 1503.4,428.5 1504.2,421.2 1505.2,408.8 1506.2,395.9 1506.9,385.5 1508.0,377.4 1508.8,376.5 1510.0,365.1 1510.9,367.4 1511.9,356.7 1512.8,365.7 1513.8,382.5 1514.5,392.8 1515.7,377.4 1516.4,374.5 1517.6,364.6 1518.3,349.0 1518.7,358.3 1519.4,368.7 1520.5,384.7 1520.9,395.4 1522.1,401.7 1523.1,410.3 1523.7,421.7 1524.8,426.3 1526.0,417.4 1526.8,418.6 1527.6,411.3 1528.7,408.3 1529.5,400.3 1530.6,400.1 1531.9,391.1 1532.5,387.8 1533.8,385.1 1534.9,373.8 1535.6,366.3 1536.9,362.5 1537.7,354.2 1538.7,363.9 1540.2,382.5 1541.4,388.2 1542.8,392.8 1543.3,401.2 1543.3,414.4 1543.9,422.7 1544.2,436.2 1544.5,444.7 1544.9,454.3 1545.4,465.0 1546.7,474.2 1547.4,468.8 1548.7,472.5 1549.3,483.9 1550.6,483.0 1551.6,485.5 1552.6,485.2 1553.6,476.1 1554.4,479.4 1555.7,477.8 1556.9,477.2 1557.6,468.9 1558.8,462.4 1559.8,454.8 1561.0,456.8 1562.1,446.9 1562.9,447.8 1564.4,454.2 1565.0,445.8 1566.5,456.4 1567.3,452.1 1568.3,443.2 1569.5,443.1 1570.5,441.8 1571.2,436.6 1572.4,430.2 1573.4,428.3 1574.2,432.7 1575.5,422.7 1576.3,423.7 1576.9,432.9 1577.9,443.0 1578.4,451.8 1579.6,469.4 1580.2,475.3 1581.0,479.7 1582.4,477.5 1583.5,482.0 1584.4,490.5 1585.4,491.5 1586.3,498.3 1587.4,501.0 1588.5,495.7 1589.6,486.2 1590.4,481.1 1591.8,472.7 1592.7,459.4 1593.7,455.2 1594.4,441.8 1595.6,448.5 1596.9,462.4 1597.9,456.1 1598.6,457.8 1599.6,456.0 1600.8,454.7 1601.8,454.7 1602.9,460.3 1604.0,473.2 1604.9,470.3 1605.9,480.4 1606.9,470.7 1608.1,459.6 1609.0,460.8 1609.8,446.9 1610.9,438.8 1611.6,429.1 1612.7,417.2 1613.7,400.5 1614.6,387.3 1615.1,379.4 1615.3,365.0 1616.4,352.5 1617.1,341.5 1617.5,331.0 1618.5,338.3 1619.1,358.4 1619.7,362.4 1620.6,374.3 1621.4,387.7 1622.1,393.8 1623.1,411.9 1624.4,421.1 1625.3,426.3 1626.4,442.4 1627.6,452.4 1629.1,465.0 1630.2,469.2 1631.3,477.2 1632.1,486.7 1633.0,488.2 1633.7,484.7 1635.0,469.0 1636.1,458.5 1636.9,452.1 1638.0,441.1 1638.3,430.6 1639.2,416.4 1640.1,404.4 1640.9,394.0 1641.5,383.8 1642.4,399.8 1643.1,406.9 1643.7,410.1 1644.6,426.3 1645.0,436.2 1646.0,449.2 1646.6,463.0 1647.0,471.4 1647.9,482.0 1648.5,495.9 1649.5,504.6 1650.8,514.9 1652.3,526.8 1653.2,529.3 1654.4,526.6 1655.5,531.1 1656.2,537.8 1657.5,534.5 1658.3,530.3 1659.2,535.4 1660.6,536.7 1661.3,530.6 1662.0,534.6 1663.3,530.9 1664.3,531.7 1665.2,532.0 1666.8,538.5 1667.8,539.7 1668.7,534.8 1669.7,521.1 1671.1,511.3 1671.7,520.4 1672.1,538.5 1673.0,547.4 1674.0,542.8 1675.8,533.1 1676.8,532.0 1677.6,536.4 1678.8,540.0 1679.9,538.0 1680.7,544.8 1681.6,539.1 1682.5,542.3 1683.8,534.5"/>
<text x="1376.7" y="105.6" font-size="46">H<tspan font-size="32.2" dy="10.0">g</tspan><tspan dy="-10.0">(6)</tspan></text>
<text x="1562.9" y="119.7" font-size="46">H<tspan font-size="32.2" dy="10.0">g</tspan><tspan dy="-10.0">(8)</tspan></text>
<text x="1490.7" y="176.7" font-size="46">A<tspan font-size="32.2" dy="10.0">g</tspan><tspan dy="-10.0">(2)</tspan></text>
<text x="1237.4" y="259.2" font-size="46">H<tspan font-size="32.2" dy="10.0">g</tspan><tspan dy="-10.0">(5)</tspan></text>
<text x="1422.7" y="276.1" font-size="46">H<tspan font-size="32.2" dy="10.0">g</tspan><tspan dy="-10.0">(7)</tspan></text>
<text x="1010.2" y="346.2" font-size="46" style="fill:#4472c4">T<tspan font-size="32.2" dy="10.0">1u</tspan><tspan dy="-10.0">(2)</tspan></text>
<text x="1190" y="554" font-size="46" style="fill:#4472c4">T<tspan font-size="32.2" dy="10.0">1g</tspan><tspan dy="-10.0">(1)</tspan></text>
<text x="1333" y="539.9" font-size="46" style="fill:#4472c4">T<tspan font-size="32.2" dy="10.0">1g</tspan><tspan dy="-10.0">(3)</tspan></text>
<line x1="1334.5" y1="282.5" x2="1334.5" y2="376" stroke="#333" stroke-width="5.5" stroke-dasharray="2.1 2"/>
<line x1="1419.6" y1="131.5" x2="1419.6" y2="274" stroke="#333" stroke-width="5.5" stroke-dasharray="2.1 2"/>
<line x1="1514.4" y1="291" x2="1514.4" y2="340" stroke="#333" stroke-width="3.6" stroke-dasharray="2.1 2"/>
<line x1="1534.6" y1="197" x2="1534.6" y2="345" stroke="#333" stroke-width="4.4" stroke-dasharray="2.1 2"/>
<line x1="1617.5" y1="154.5" x2="1617.5" y2="328" stroke="#333" stroke-width="5.5" stroke-dasharray="2.1 2"/>
<line x1="1050.2" y1="379" x2="1050.2" y2="475.5" stroke="#4472c4" stroke-width="2.8" stroke-dasharray="5.6 3.2"/>
<line x1="1239.6" y1="448.5" x2="1239.6" y2="530" stroke="#4472c4" stroke-width="2.1" stroke-dasharray="5.6 3.2"/>
<line x1="1392.8" y1="349.5" x2="1392.8" y2="472" stroke="#4472c4" stroke-width="3.8" stroke-dasharray="5.6 3.2"/>
</g>
<g id="panel-c">
<text class="ser" x="44.5" y="801.5" font-size="81">c</text>
<rect x="256.3" y="804.5" width="1425.2" height="710.0" fill="none" stroke="#0c0c0c" stroke-width="5.4"/>
<line x1="238" y1="804.5" x2="256.3" y2="804.5" stroke="#0c0c0c" stroke-width="5"/>
<line x1="246.5" y1="982" x2="256.3" y2="982" stroke="#0c0c0c" stroke-width="5"/>
<line x1="238" y1="1159" x2="256.3" y2="1159" stroke="#0c0c0c" stroke-width="5"/>
<line x1="246.5" y1="1337" x2="256.3" y2="1337" stroke="#0c0c0c" stroke-width="5"/>
<line x1="238" y1="1514.5" x2="256.3" y2="1514.5" stroke="#0c0c0c" stroke-width="5"/>
<text x="219" y="826.6" font-size="67" text-anchor="end">20</text>
<text x="218" y="1188.8" font-size="67" text-anchor="end">10</text>
<text x="229" y="1528.4" font-size="67" text-anchor="end">0</text>
<text transform="translate(83.2,1146.7) rotate(-90)" font-size="64.9" text-anchor="middle">Observation ratio</text>
<text x="929.4" y="1665" font-size="65.8" text-anchor="middle">Vibration mode</text>
<rect x="289.4" y="1298.1" width="76.7" height="214.4" fill="url(#lc)" stroke="#2a2a2a" stroke-width="1.4"/>
<rect x="384.3" y="1147.4" width="77.2" height="365.1" fill="#e7272d"/>
<rect x="527.1" y="1368.2" width="76.4" height="144.3" fill="url(#lc)" stroke="#2a2a2a" stroke-width="1.4"/>
<rect x="621.2" y="1254.4" width="77.8" height="258.1" fill="#e7272d"/>
<rect x="764.7" y="1213.2" width="76.2" height="299.3" fill="url(#lc)" stroke="#2a2a2a" stroke-width="1.4"/>
<rect x="857.8" y="1027.8" width="79.2" height="484.7" fill="#e7272d"/>
<rect x="1002.1" y="1440.7" width="76.2" height="71.8" fill="url(#lc)" stroke="#2a2a2a" stroke-width="1.4"/>
<rect x="1096.3" y="1340.4" width="77.0" height="172.1" fill="#e7272d"/>
<rect x="1240.0" y="1109.5" width="75.6" height="403.0" fill="url(#lc)" stroke="#2a2a2a" stroke-width="1.4"/>
<rect x="1333.7" y="1005.8" width="77.6" height="506.7" fill="#e7272d"/>
<rect x="1476.7" y="1429.7" width="76.9" height="82.8" fill="url(#lc)" stroke="#2a2a2a" stroke-width="1.4"/>
<rect x="1571.0" y="1354.3" width="78.2" height="158.2" fill="#e7272d"/>
<text class="hum" x="285.3" y="1254.5" font-size="44" letter-spacing="2.6" style="fill:#1a1a1a">LC</text>
<text class="hum" x="381.3" y="1104" font-size="44" letter-spacing="2.6" style="fill:#e7272d">HC</text>
<text class="hum" x="523.8" y="1345.5" font-size="44" letter-spacing="2.6" style="fill:#1a1a1a">LC</text>
<text class="hum" x="620.8" y="1211.5" font-size="44" letter-spacing="2.6" style="fill:#e7272d">HC</text>
<text class="hum" x="760.2" y="1185.3" font-size="44" letter-spacing="2.6" style="fill:#1a1a1a">LC</text>
<text class="hum" x="856.8" y="978.6" font-size="44" letter-spacing="2.6" style="fill:#e7272d">HC</text>
<text class="hum" x="995.8" y="1409.3" font-size="44" letter-spacing="2.6" style="fill:#1a1a1a">LC</text>
<text class="hum" x="1091.8" y="1297" font-size="44" letter-spacing="2.6" style="fill:#e7272d">HC</text>
<text class="hum" x="1233.8" y="1090.3" font-size="44" letter-spacing="2.6" style="fill:#1a1a1a">LC</text>
<text class="hum" x="1329.3" y="978.6" font-size="44" letter-spacing="2.6" style="fill:#e7272d">HC</text>
<text class="hum" x="1474.1" y="1404" font-size="44" letter-spacing="2.6" style="fill:#1a1a1a">LC</text>
<text class="hum" x="1570.8" y="1324.2" font-size="44" letter-spacing="2.6" style="fill:#e7272d">HC</text>
<text x="305.5" y="1576.6" font-size="51.2" class="hum" letter-spacing="4">H<tspan font-size="35" dy="14.4">g</tspan><tspan dy="-14.4">(5)</tspan></text>
<text x="542.2" y="1576.6" font-size="51.2" class="hum" letter-spacing="4">H<tspan font-size="35" dy="14.4">g</tspan><tspan dy="-14.4">(7)</tspan></text>
<text x="782.4" y="1576.6" font-size="51.2" class="hum" letter-spacing="4">H<tspan font-size="35" dy="14.4">g</tspan><tspan dy="-14.4">(8)</tspan></text>
<text x="1005.3" y="1576.6" font-size="51.2" class="hum" letter-spacing="4">T<tspan font-size="35" dy="14.4">1u</tspan><tspan dy="-14.4">(3)</tspan></text>
<text x="1238.9" y="1576.6" font-size="51.2" class="hum" letter-spacing="4">T<tspan font-size="35" dy="14.4">1u</tspan><tspan dy="-14.4">(2)</tspan></text>
<text x="1485.5" y="1576.6" font-size="51.2" class="hum" letter-spacing="4">T<tspan font-size="35" dy="14.4">1g</tspan><tspan dy="-14.4">(1)</tspan></text>
</g>
</svg></body></html>
